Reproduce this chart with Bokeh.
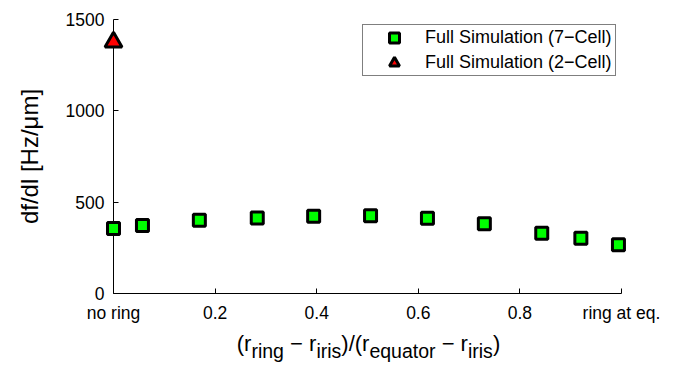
from bokeh.plotting import figure
from bokeh.models import Range1d, FixedTicker, Legend, LegendItem, Div
from bokeh.layouts import column
from bokeh.embed import file_html
from bokeh.resources import INLINE

# ---- data ----
ring_pos_7cell = [0.0, 0.057, 0.169, 0.283, 0.394, 0.506, 0.618, 0.730, 0.843, 0.920, 0.994]
dfdl_7cell = [356, 372, 401, 414, 423, 425, 412, 382, 330, 303, 267]
ring_pos_2cell = [0.0]
dfdl_2cell = [1377]
x_ticks = [0, 0.2, 0.4, 0.6, 0.8, 1]
x_tick_labels = ["no ring", "0.2", "0.4", "0.6", "0.8", "ring at eq."]
y_ticks = [0, 500, 1000, 1500]
series_names = ["Full Simulation (7\u2212Cell)", "Full Simulation (2\u2212Cell)"]
y_label = "df/dl [Hz/\u03bcm]"
x_label_html = ("(r<span class='s'>ring</span> \u2212 r<span class='s'>iris</span>)/"
                "(r<span class='s'>equator</span> \u2212 r<span class='s'>iris</span>)")

FONT = "Liberation Sans"

# layout constants (figure pixels)
W, H1, H2 = 668, 331, 33
FL, FT, FW, FH = 113, 19, 508, 274

p = figure(width=W, height=H1, output_backend="svg", toolbar_location=None,
           x_range=Range1d(0, 1), y_range=Range1d(0, 1500),
           min_border_left=FL, min_border_right=W - FL - FW,
           min_border_top=FT, min_border_bottom=H1 - FT - FH)
p.outline_line_color = None
p.xgrid.visible = False
p.ygrid.visible = False
p.background_fill_color = "white"
p.border_fill_color = "white"

for ax in (p.xaxis[0], p.yaxis[0]):
    ax.axis_line_color = "black"
    ax.axis_line_width = 1
    ax.major_tick_line_color = "black"
    ax.major_tick_in = 5
    ax.major_tick_out = 0
    ax.minor_tick_line_color = None
    ax.major_label_text_font = FONT
    ax.major_label_text_font_size = "17.5px"
    ax.major_label_text_color = "black"

p.xaxis.ticker = FixedTicker(ticks=x_ticks)
p.xaxis.major_label_overrides = dict(zip(x_ticks, x_tick_labels))
p.xaxis.major_label_standoff = 9
p.yaxis.ticker = FixedTicker(ticks=y_ticks)
p.yaxis.major_label_standoff = 9

p.yaxis.axis_label = y_label
p.yaxis.axis_label_text_font = FONT
p.yaxis.axis_label_text_font_size = "24px"
p.yaxis.axis_label_text_font_style = "normal"
p.yaxis.axis_label_text_color = "black"
p.yaxis.axis_label_standoff = 20

r7 = p.scatter(ring_pos_7cell, dfdl_7cell, marker="square", size=12,
               fill_color="#00FF00", line_color="black", line_width=3, level="overlay")
r2 = p.scatter(ring_pos_2cell, dfdl_2cell, marker="triangle", size=17,
               fill_color="#FF0000", line_color="black", line_width=3, level="overlay")

legend = Legend(items=[LegendItem(label=series_names[0], renderers=[r7]),
                       LegendItem(label=series_names[1], renderers=[r2])],
                location=(249, 217), margin=0, padding=0, spacing=0,
                glyph_width=62, glyph_height=25, label_height=25,
                label_standoff=0, label_width=190,
                label_text_font=FONT, label_text_font_size="18px",
                label_text_color="black",
                border_line_color="black", border_line_width=1,
                background_fill_color="white", background_fill_alpha=1)
p.add_layout(legend)

# x-axis label (with subscripts) as real HTML text below the plot
xlab = Div(
    text=("<style>.s{font-size:19.5px;position:relative;top:7px;}</style>"
          "<div style='width:737px;text-align:center;white-space:nowrap;'>"
          + x_label_html + "</div>"),
    width=W, height=H2, margin=(0, 0, 0, 0),
    styles={"font-family": FONT, "font-size": "22px", "line-height": "26px",
            "color": "black", "overflow": "hidden", "background-color": "white"})

layout = column(p, xlab, spacing=0)
open("out.html", "w").write(file_html(layout, INLINE))
